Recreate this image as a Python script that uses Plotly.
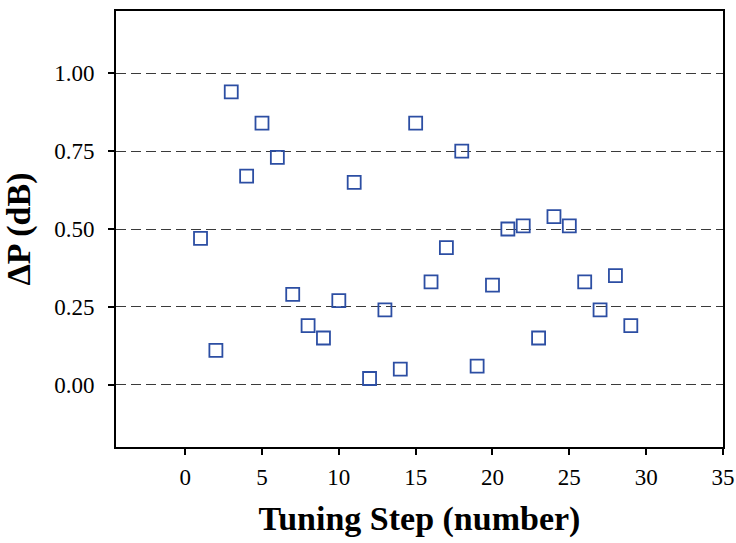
import plotly.graph_objects as go

steps = list(range(1, 30))
delta_p = [0.47, 0.11, 0.94, 0.67, 0.84, 0.73, 0.29, 0.19, 0.15, 0.27,
           0.65, 0.02, 0.24, 0.05, 0.84, 0.33, 0.44, 0.75, 0.06, 0.32,
           0.50, 0.51, 0.15, 0.54, 0.51, 0.33, 0.24, 0.35, 0.19]
x_ticks = [0, 5, 10, 15, 20, 25, 30, 35]
y_ticks = [0.0, 0.25, 0.5, 0.75, 1.0]
y_labels = ["0.00", "0.25", "0.50", "0.75", "1.00"]

fig = go.Figure()
fig.add_trace(go.Scatter(
    x=steps, y=delta_p, mode="markers",
    marker=dict(symbol="square-open", size=13, color="#2c4ea3",
                line=dict(width=1.8, color="#2c4ea3")),
    showlegend=False,
))

font_family = "Liberation Serif"
fig.update_layout(
    width=736, height=543,
    margin=dict(l=116, r=13, t=11, b=96),
    paper_bgcolor="white", plot_bgcolor="white",
    font=dict(family=font_family, color="black"),
    xaxis=dict(
        range=[-4.5, 35], tickvals=x_ticks, ticktext=[str(v) for v in x_ticks],
        ticks="outside", ticklen=6, tickwidth=1.5, tickcolor="black",
        showgrid=False, zeroline=False, automargin=False,
        ticklabeloverflow="allow",
        showline=True, linecolor="black", linewidth=2, mirror=True,
        tickfont=dict(size=23, family=font_family),
        ticklabelstandoff=2,
        title=dict(text="<b>Tuning Step (number)</b>",
                   font=dict(size=34, family=font_family), standoff=18),
    ),
    yaxis=dict(
        range=[-0.2, 1.2], tickvals=y_ticks, ticktext=y_labels,
        ticks="outside", ticklen=6, tickwidth=1.5, tickcolor="black",
        showgrid=True, gridcolor="#3a3a3a", gridwidth=1.2, griddash="10px,5px",
        zeroline=False, automargin=False,
        showline=True, linecolor="black", linewidth=2, mirror=True,
        tickfont=dict(size=23, family=font_family),
        ticklabelstandoff=9,
        title=dict(text="<b>ΔP (dB)</b>",
                   font=dict(size=34, family=font_family), standoff=14),
    ),
)

fig.write_html("out.html",
               config={"displayModeBar": False},
               post_script="document.body.style.margin='0';")
